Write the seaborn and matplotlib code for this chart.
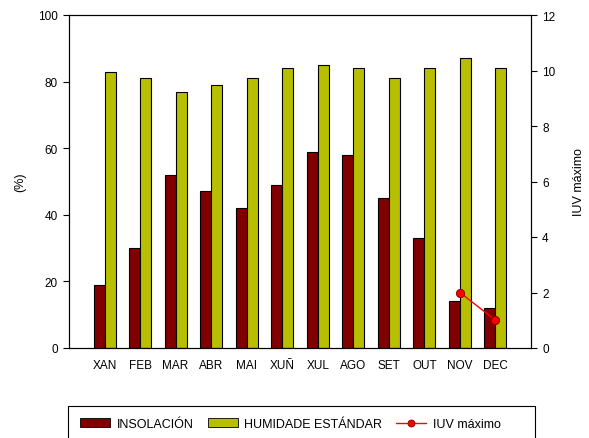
import matplotlib
matplotlib.use("Agg")
import matplotlib.pyplot as plt
import seaborn as sns
import pandas as pd
from matplotlib.lines import Line2D
from matplotlib.patches import Patch, Rectangle

months = ["XAN", "FEB", "MAR", "ABR", "MAI", "XUÑ", "XUL", "AGO", "SET", "OUT", "NOV", "DEC"]
insolacion = [19, 30, 52, 47, 42, 49, 59, 58, 45, 33, 14, 12]
humidade = [83, 81, 77, 79, 81, 84, 85, 84, 81, 84, 87, 84]
iuv_months = ["NOV", "DEC"]
iuv_values = [2, 1]

sns.set_style("white")
plt.rcParams['font.family'] = ['Liberation Sans', 'DejaVu Sans']
plt.rcParams['font.size'] = 9
plt.rcParams['text.color'] = 'black'
plt.rcParams['axes.labelcolor'] = 'black'
plt.rcParams['xtick.color'] = 'black'
plt.rcParams['ytick.color'] = 'black'

c_ins = "#800000"
c_hum = "#B8BF00"

df = pd.DataFrame({
    "mes": months * 2,
    "valor": insolacion + humidade,
    "serie": ["INSOLACIÓN"] * 12 + ["HUMIDADE ESTÁNDAR"] * 12,
})

fig = plt.figure(figsize=(5.89, 4.39), dpi=100)
ax = fig.add_axes([69/589, 1-349/439, (531-69)/589, (349-16)/439])

sns.barplot(data=df, x="mes", y="valor", hue="serie", order=months,
            hue_order=["INSOLACIÓN", "HUMIDADE ESTÁNDAR"],
            palette=[c_ins, c_hum], width=0.62, edgecolor="black",
            linewidth=0.8, ax=ax, legend=False, saturation=1)
ax.set_xlim(-1, 12)
ax.set_ylim(0, 100)
ax.set_yticks([0, 20, 40, 60, 80, 100])
ax.set_xlabel("")
ax.set_ylabel("(%)", fontsize=9)
ax.yaxis.set_label_coords((26-69)/462, 0.5)
for s in ax.spines.values():
    s.set_visible(True)
    s.set_color("black")
    s.set_linewidth(0.8)
ax.tick_params(axis="y", direction="out", length=4, width=0.8, labelsize=8.5, left=True, pad=4)
ax.tick_params(axis="x", direction="in", length=4, width=0.8, labelsize=8.5, bottom=True, pad=8)

ax2 = ax.twinx()
ax2.set_ylim(0, 12)
ax2.set_yticks([0, 2, 4, 6, 8, 10, 12])
xpos = [months.index(m) for m in iuv_months]
sns.lineplot(x=xpos, y=iuv_values, ax=ax2, color="red", marker="o",
             markersize=6, markeredgecolor="#800000", markeredgewidth=0.6,
             linewidth=1.0)
ax2.set_ylabel("IUV máximo", fontsize=9)
ax2.yaxis.set_label_coords((573-69)/462, 0.5)
ax2.tick_params(axis="y", direction="out", length=4, width=0.8, labelsize=8.5, right=True, pad=4)
for s in ax2.spines.values():
    s.set_linewidth(0.8)
    s.set_color("black")
ax2.set_xlim(-1, 12)

handles = [
    Patch(facecolor=c_ins, edgecolor="black", linewidth=0.6),
    Patch(facecolor=c_hum, edgecolor="black", linewidth=0.6),
    Line2D([0], [0], color="red", marker="o", markersize=5,
           markeredgecolor="#800000", markeredgewidth=0.6, linewidth=1.0),
]
labels = ["INSOLACIÓN", "HUMIDADE ESTÁNDAR", "IUV máximo"]
leg = fig.legend(handles, labels, loc="center left",
                 bbox_to_anchor=(80/589, 1-425/439),
                 ncol=3, fontsize=9, frameon=False,
                 handlelength=2.4, handleheight=0.75, columnspacing=1.1,
                 handletextpad=0.55, borderpad=0, borderaxespad=0)
fig.patches.append(Rectangle((68/589, -0.05), (535-68)/589, 0.05 + 1-407/439,
                             transform=fig.transFigure, fill=False,
                             edgecolor="black", linewidth=0.8))

fig.savefig("out.png", dpi=100)
